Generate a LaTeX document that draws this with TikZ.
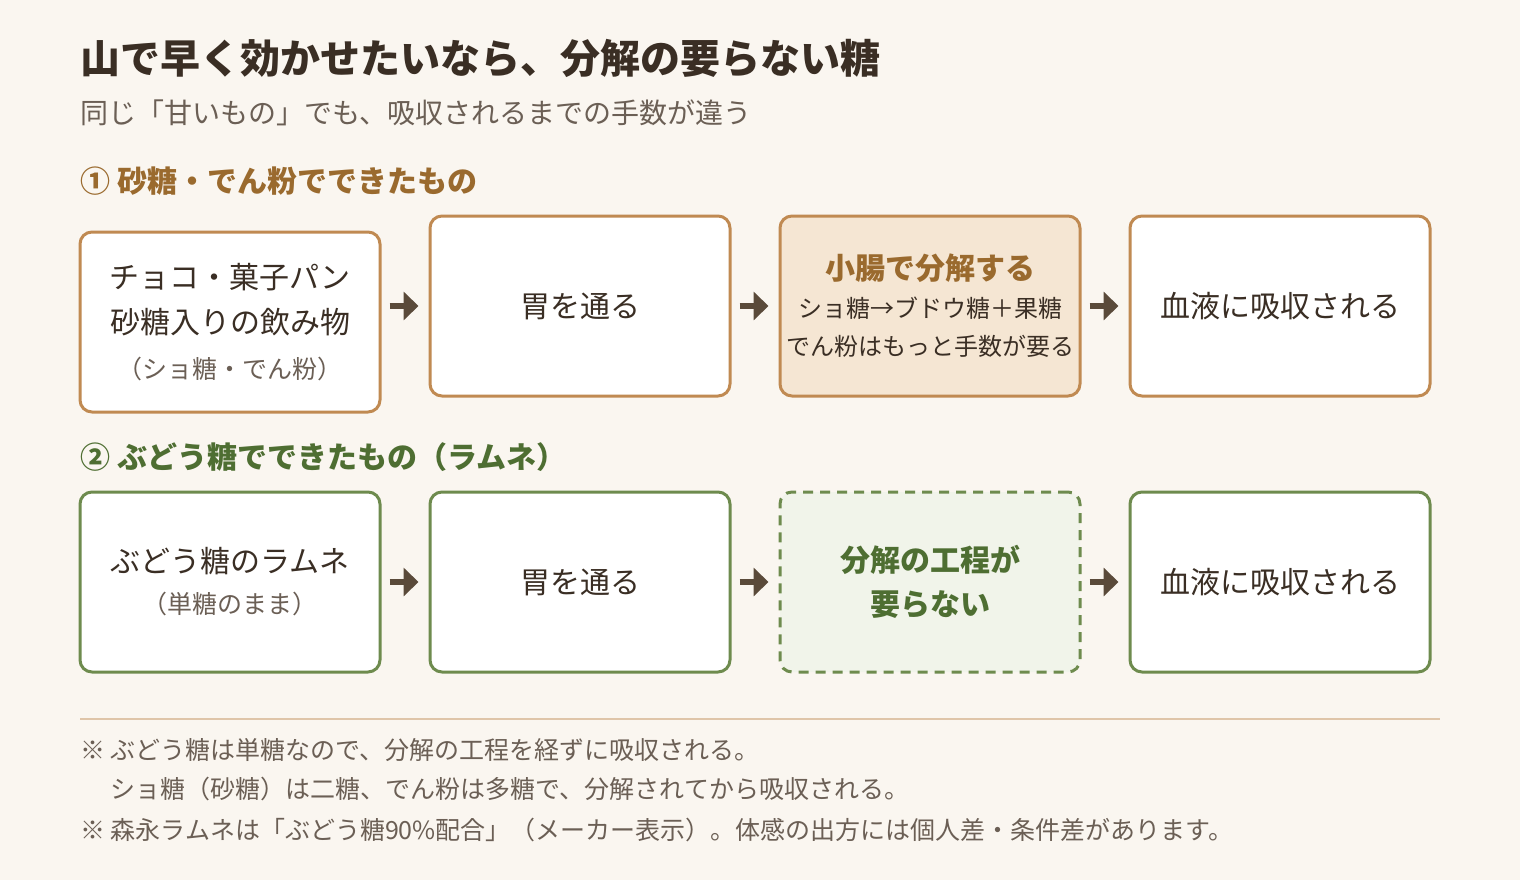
\documentclass[tikz,border=0pt]{standalone}
\usepackage{fontspec}
\setmainfont{Noto Sans CJK JP}
\usetikzlibrary{positioning}
\usetikzlibrary{arrows.meta}
\definecolor{bgc}{HTML}{FAF6F0}
\definecolor{ink}{HTML}{3A2E24}
\definecolor{subink}{HTML}{6B5F55}
\definecolor{brown}{HTML}{9A6A2E}
\definecolor{brownline}{HTML}{C08A52}
\definecolor{brownfill}{HTML}{F5E6D3}
\definecolor{greenline}{HTML}{6E8B4E}
\definecolor{greenink}{HTML}{4E6E32}
\definecolor{greenfill}{HTML}{F1F4EA}
\definecolor{arrowc}{HTML}{5A4A3A}
\tikzset{step box/.style={draw,line width=3pt,rounded corners=12pt,fill=white,
                          minimum width=300pt,minimum height=180pt,align=center,
                          text=ink,font=\fontsize{30}{45}\selectfont}}
\tikzset{sugar box/.style={step box,draw=brownline}}
\tikzset{glucose box/.style={step box,draw=greenline}}
\tikzset{flow/.style={draw=arrowc,line width=6pt,-{Triangle[length=15pt,width=28pt]}}}
\newcommand{\subtxt}[1]{{\fontsize{25}{45}\selectfont\color{subink}#1}}

\begin{document}
\begin{tikzpicture}
      [
      x=1pt,y=-1pt,
      head/.style={anchor=west,inner sep=0pt},
      ]

      \fill [bgc] (0,0) rectangle (1520,880);

      % headings
      \node [head,text=ink,font=\fontsize{40}{40}\selectfont\bfseries] (title) at (80,58)
      {山で早く効かせたいなら、分解の要らない糖};
      \node [head,text=subink,font=\fontsize{28}{28}\selectfont] (subtitle) at (80,113)
      {同じ「甘いもの」でも、吸収されるまでの手数が違う};
      \node [head,text=brown,font=\fontsize{30}{30}\selectfont\bfseries] (head1) at (80,181)
      {① 砂糖・でん粉でできたもの};
      \node [head,text=greenink,font=\fontsize{30}{30}\selectfont\bfseries] (head2) at (80,457)
      {② ぶどう糖でできたもの（ラムネ）};

      % row 1
      \node [sugar box] (S1) at (230,322)
      {チョコ・菓子パン\\砂糖入りの飲み物\\\subtxt{（ショ糖・でん粉）}};
      \node [sugar box] (S2) at (580,306) {胃を通る};
      \node [sugar box,fill=brownfill,font=\fontsize{24}{38}\selectfont] (S3) at (930,306)
      {{\fontsize{30}{44}\selectfont\bfseries\color{brown}小腸で分解する}\\ショ糖→ブドウ糖＋果糖\\でん粉はもっと手数が要る};
      \node [sugar box] (S4) at (1280,306) {血液に吸収される};

      % row 2
      \node [glucose box] (G1) at (230,582)
      {ぶどう糖のラムネ\\[-4pt]\subtxt{（単糖のまま）}};
      \node [glucose box] (G2) at (580,582) {胃を通る};
      \node [glucose box,fill=greenfill,dash pattern=on 10pt off 7pt,text=greenink,
             font=\fontsize{30}{44}\selectfont\bfseries] (G3) at (930,582)
      {分解の工程が\\要らない};
      \node [glucose box] (G4) at (1280,582) {血液に吸収される};

      % arrows
      \foreach \a/\b in {S2/S3,S3/S4,G1/G2,G2/G3,G3/G4}
      {
      \draw [flow] ([xshift=8pt]\a.east) -- ([xshift=-10pt]\b.west);
      }
      \draw [flow] ([xshift=8pt]S1.east |- S2.east) -- ([xshift=-10pt]S2.west);

      % notes
      \coordinate (ruleL) at (80,719);
      \coordinate (ruleR) at (1440,719);
      \draw [brownline!50,line width=1.5pt] (ruleL) -- (ruleR);
      \node [head,text=subink,font=\fontsize{25}{39}\selectfont,align=left] (note1) at (80,770)
      {※ ぶどう糖は単糖なので、分解の工程を経ずに吸収される。\\
      \hphantom{※ }ショ糖（砂糖）は二糖、でん粉は多糖で、分解されてから吸収される。};
      \node [head,text=subink,font=\fontsize{25}{25}\selectfont] (note2) at (80,830)
      {※ 森永ラムネは「ぶどう糖90\%配合」（メーカー表示）。体感の出方には個人差・条件差があります。};

\end{tikzpicture}
\end{document}
